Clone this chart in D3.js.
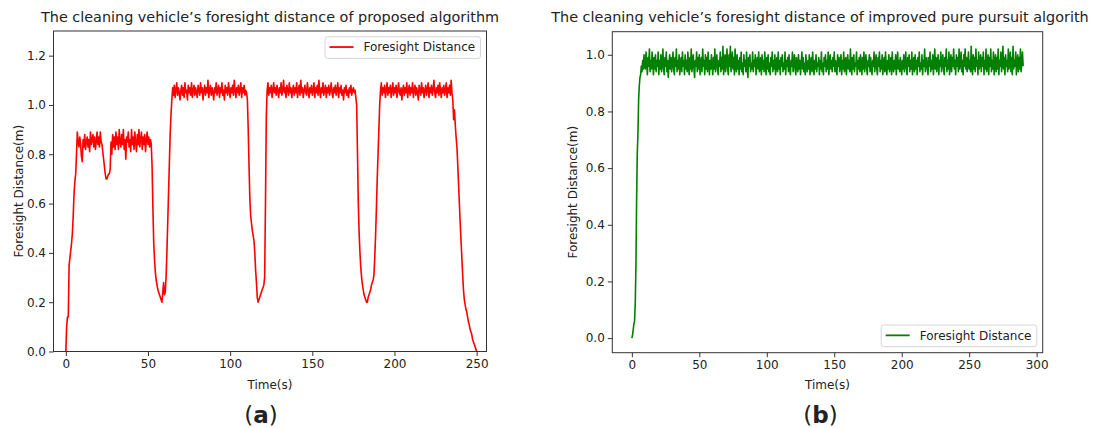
<!DOCTYPE html>
<html>
<head>
<meta charset="utf-8">
<script src="https://cdn.jsdelivr.net/npm/d3@7"></script>
<style>
  html, body { margin: 0; padding: 0; background: #fff; }
  svg { display: block; }
  text { font-family: "DejaVu Sans", sans-serif; fill: #222; }
</style>
</head>
<body>
<svg id="chart" width="1094" height="428"></svg>
<script>
// ---------------- DATA ----------------
// Panel (a): proposed algorithm, one sample every 0.5 s, t = 0 .. 250 s
const timeStepA = 0.5;
const foresightA = [
  0.00,0.10,0.14,0.14,0.35,0.38,0.41,0.44,0.48,0.55,0.64,0.69,0.72,0.80,0.89,0.85,0.83,0.87,0.84,0.79,
  0.77,0.86,0.83,0.88,0.82,0.85,0.87,0.83,0.86,0.81,0.89,0.84,0.86,0.88,0.83,0.87,0.82,0.85,0.89,0.84,
  0.87,0.83,0.89,0.85,0.84,0.81,0.78,0.75,0.72,0.70,0.70,0.71,0.72,0.72,0.74,0.85,0.80,0.88,0.83,0.87,
  0.82,0.89,0.84,0.87,0.82,0.90,0.85,0.83,0.88,0.84,0.90,0.82,0.86,0.78,0.87,0.85,0.89,0.83,0.86,0.81,
  0.90,0.84,0.87,0.82,0.89,0.85,0.81,0.88,0.84,0.90,0.83,0.86,0.89,0.82,0.87,0.84,0.88,0.81,0.86,0.89,
  0.84,0.87,0.83,0.86,0.84,0.75,0.58,0.44,0.37,0.32,0.29,0.27,0.25,0.24,0.23,0.22,0.21,0.20,0.24,0.28,
  0.23,0.24,0.30,0.40,0.52,0.64,0.76,0.88,0.96,1.02,1.07,1.04,1.08,1.03,1.06,1.09,1.04,1.07,1.05,1.02,
  1.06,1.08,1.04,1.07,1.03,1.09,1.05,1.06,1.02,1.08,1.05,1.07,1.04,1.09,1.03,1.06,1.08,1.04,1.07,1.05,
  1.03,1.08,1.06,1.04,1.09,1.05,1.07,1.02,1.06,1.08,1.04,1.07,1.05,1.10,1.03,1.06,1.08,1.04,1.07,1.05,
  1.02,1.07,1.05,1.09,1.04,1.06,1.08,1.03,1.07,1.05,1.09,1.04,1.06,1.02,1.08,1.05,1.07,1.04,1.09,1.06,
  1.03,1.07,1.05,1.08,1.04,1.10,1.06,1.03,1.07,1.05,1.08,1.04,1.06,1.09,1.03,1.07,1.05,1.08,1.04,1.06,
  1.05,1.02,0.90,0.75,0.62,0.55,0.52,0.49,0.47,0.45,0.40,0.33,0.28,0.22,0.20,0.21,0.22,0.23,0.24,0.25,
  0.26,0.27,0.30,0.60,0.95,1.06,1.09,1.04,1.07,1.05,1.08,1.03,1.06,1.09,1.05,1.07,1.04,1.08,1.06,1.03,
  1.07,1.05,1.09,1.04,1.06,1.10,1.05,1.07,1.03,1.08,1.06,1.04,1.09,1.05,1.07,1.03,1.06,1.08,1.04,1.07,
  1.05,1.09,1.03,1.06,1.08,1.04,1.10,1.05,1.07,1.03,1.06,1.08,1.05,1.04,1.09,1.06,1.03,1.07,1.05,1.08,
  1.04,1.06,1.09,1.03,1.07,1.05,1.08,1.04,1.10,1.06,1.03,1.07,1.05,1.09,1.04,1.06,1.08,1.03,1.07,1.05,
  1.08,1.04,1.06,1.09,1.05,1.03,1.07,1.05,1.08,1.04,1.06,1.09,1.03,1.07,1.05,1.08,1.04,1.06,1.02,1.07,
  1.05,1.08,1.04,1.06,1.03,1.07,1.05,1.08,1.04,1.06,1.07,1.05,1.06,1.03,1.00,0.80,0.60,0.48,0.40,0.34,
  0.30,0.27,0.25,0.23,0.22,0.21,0.20,0.20,0.22,0.23,0.24,0.25,0.27,0.28,0.29,0.31,0.38,0.47,0.58,0.70,
  0.80,0.90,1.00,1.06,1.09,1.04,1.07,1.05,1.08,1.03,1.06,1.09,1.04,1.07,1.05,1.08,1.03,1.06,1.09,1.04,
  1.07,1.05,1.08,1.03,1.06,1.09,1.05,1.04,1.07,1.02,1.06,1.08,1.04,1.07,1.05,1.09,1.03,1.06,1.08,1.04,
  1.07,1.05,1.09,1.03,1.06,1.08,1.04,1.07,1.05,1.02,1.08,1.06,1.04,1.09,1.05,1.07,1.03,1.06,1.08,1.04,
  1.06,1.09,1.03,1.07,1.05,1.08,1.04,1.06,1.10,1.05,1.03,1.07,1.05,1.08,1.04,1.09,1.06,1.03,1.07,1.05,
  1.08,1.04,1.06,1.09,1.03,1.07,1.05,1.08,1.04,1.10,1.05,1.02,0.94,0.98,0.92,0.87,0.83,0.76,0.68,0.60,
  0.52,0.45,0.38,0.31,0.25,0.21,0.19,0.17,0.16,0.14,0.12,0.11,0.09,0.08,0.07,0.05,0.04,0.03,0.02,0.01,
  0.00
];

// Panel (b): improved pure pursuit, one sample every 0.5 s, t = 0 .. 290 s
const timeStepB = 0.5;
const foresightB = [
  0.00,0.01,0.03,0.05,0.06,0.12,0.25,0.48,0.65,0.72,0.84,0.89,0.92,0.93,0.96,0.94,0.98,0.95,1.00,0.96,
  0.95,1.01,0.97,0.93,0.99,0.96,1.02,0.94,0.98,0.95,1.01,0.97,0.93,0.99,0.95,1.00,0.94,0.98,0.96,1.01,
  0.93,0.98,0.95,1.00,0.94,0.97,1.02,0.95,0.93,0.99,0.96,1.01,0.94,0.98,0.92,0.97,1.00,0.95,0.99,0.94,
  0.97,1.01,0.95,0.93,0.99,0.96,1.02,0.94,0.98,0.95,1.00,0.93,0.97,0.99,0.94,1.01,0.96,0.98,0.93,1.00,
  0.95,0.98,0.94,1.01,0.96,0.93,0.99,0.95,1.02,0.94,0.97,1.00,0.95,0.92,0.98,0.96,1.01,0.94,0.99,0.95,
  1.00,0.93,0.97,0.99,0.94,1.02,0.96,0.98,0.93,1.00,0.95,0.99,0.94,1.01,0.97,0.93,0.98,0.95,1.00,0.96,
  0.93,0.99,0.95,1.02,0.94,0.97,1.00,0.95,0.93,0.98,0.96,1.01,0.94,0.99,0.95,1.03,0.93,0.97,1.00,0.94,
  0.98,1.02,0.95,0.93,1.00,0.96,1.03,0.94,0.97,1.01,0.95,0.99,0.93,1.02,0.96,0.94,1.00,0.95,0.98,0.93,
  0.99,0.95,1.01,0.94,0.97,0.93,1.00,0.96,0.98,0.94,1.01,0.95,0.92,0.99,0.96,1.00,0.94,0.97,0.95,1.01,
  0.94,0.98,0.96,1.00,0.93,0.97,0.99,0.95,1.01,0.94,0.96,0.99,0.93,1.00,0.95,0.98,0.94,1.01,0.96,0.93,
  0.99,0.95,1.00,0.94,0.97,0.93,0.99,0.96,1.01,0.94,0.98,0.95,1.00,0.93,0.97,0.99,0.94,1.01,0.95,0.98,
  0.93,0.99,0.96,1.00,0.94,0.97,0.95,1.01,0.93,0.98,0.96,0.99,0.94,1.00,0.95,0.93,0.98,0.96,1.01,0.94,
  0.97,1.00,0.95,0.93,0.99,0.96,0.94,1.00,0.95,0.98,0.93,0.97,1.01,0.95,0.99,0.94,0.97,0.93,1.00,0.96,
  0.94,0.98,0.95,1.00,0.93,0.97,0.99,0.94,1.01,0.96,0.93,0.98,0.95,1.00,0.94,0.97,0.96,0.99,0.93,0.98,
  0.95,1.01,0.94,0.97,0.93,0.99,0.96,1.00,0.94,0.98,0.95,1.01,0.93,0.97,1.00,0.95,0.98,0.94,0.99,0.96,
  1.01,0.94,0.98,0.95,0.93,1.00,0.96,0.99,0.94,0.97,1.00,0.93,0.98,0.95,1.01,0.94,0.96,0.99,0.93,0.97,
  1.00,0.95,0.98,0.94,1.02,0.96,0.93,0.99,0.95,1.00,0.94,0.97,0.96,1.01,0.93,0.98,0.95,0.99,0.94,1.00,
  0.96,0.93,0.99,0.95,1.01,0.94,0.97,1.00,0.95,0.93,0.98,0.96,1.00,0.94,0.99,0.95,0.93,0.98,0.96,1.01,
  0.94,0.97,1.00,0.95,0.93,0.99,0.96,1.01,0.94,0.98,0.95,1.00,0.93,0.97,0.99,0.94,1.01,0.96,0.93,0.98,
  0.95,1.00,0.94,0.97,0.99,0.93,1.01,0.96,0.94,0.98,0.95,1.00,0.93,0.97,1.01,0.95,0.98,0.94,0.99,0.96,
  0.93,0.98,0.95,1.00,0.94,0.97,1.01,0.95,0.93,0.99,0.96,1.00,0.94,0.98,0.95,1.01,0.93,0.97,0.99,0.94,
  1.00,0.95,0.98,0.93,0.99,0.96,1.01,0.94,0.97,0.95,1.00,0.93,0.98,0.96,1.02,0.94,0.97,0.99,0.95,0.93,
  0.99,0.96,1.01,0.94,0.98,0.95,1.00,0.93,0.97,1.02,0.95,0.99,0.94,0.97,1.00,0.93,0.98,0.96,1.01,0.94,
  0.97,1.00,0.95,0.93,0.99,0.96,1.02,0.94,0.98,0.95,1.01,0.93,0.97,1.00,0.94,0.99,0.96,1.02,0.95,0.98,
  0.93,1.00,0.96,0.99,0.94,1.02,0.95,0.97,1.01,0.94,0.98,0.93,1.00,0.96,1.02,0.95,0.99,0.94,0.97,1.01,
  0.95,0.98,0.94,1.03,0.96,0.93,1.00,0.95,0.99,0.94,1.02,0.96,0.98,0.93,1.01,0.95,0.97,1.00,0.94,0.99,
  0.96,1.01,0.93,0.98,0.95,1.02,0.94,0.97,1.00,0.93,0.99,0.96,1.02,0.94,0.98,0.95,1.01,0.93,0.97,1.00,
  0.94,0.99,0.95,1.02,0.93,0.98,0.96,1.01,0.94,0.97,1.03,0.95,0.99,0.93,1.00,0.96,0.98,0.94,1.02,0.95,
  0.97,1.01,0.94,0.99,0.93,1.03,0.95,0.98,0.96,1.01,0.93,0.97,1.00,0.94,0.99,0.95,1.02,0.94,0.97,1.01,
  0.96
];

const xTicksA = [0, 50, 100, 150, 200, 250];
const yTicksA = [0.0, 0.2, 0.4, 0.6, 0.8, 1.0, 1.2];
const xTicksB = [0, 50, 100, 150, 200, 250, 300];
const yTicksB = [0.0, 0.2, 0.4, 0.6, 0.8, 1.0];

const titleA = "The cleaning vehicle\u2019s foresight distance of proposed algorithm";
const titleB = "The cleaning vehicle\u2019s foresight distance of improved pure pursuit algorith";
const xLabel = "Time(s)";
const yLabel = "Foresight Distance(m)";
const legendLabel = "Foresight Distance";

// ---------------- DRAW ----------------
const svg = d3.select("#chart");

function drawPanel(cfg) {
  const x = d3.scaleLinear().domain(cfg.xDomain).range([cfg.left, cfg.right]);
  const y = d3.scaleLinear().domain(cfg.yDomain).range([cfg.bottom, cfg.top]);
  const g = svg.append("g");

  // data line
  const pts = cfg.values.map((v, i) => [i * cfg.step, v]);
  g.append("path")
    .datum(pts)
    .attr("fill", "none")
    .attr("stroke", cfg.color)
    .attr("stroke-width", 1.6)
    .attr("stroke-linejoin", "round")
    .attr("d", d3.line().x(d => x(d[0])).y(d => y(d[1])));

  // axes
  const xAxis = d3.axisBottom(x).tickValues(cfg.xTicks).tickFormat(d3.format("d"))
    .tickSize(4.5).tickPadding(3);
  const yAxis = d3.axisLeft(y).tickValues(cfg.yTicks).tickFormat(d3.format(".1f"))
    .tickSize(4.5).tickPadding(3);
  const gx = g.append("g").attr("transform", `translate(0,${cfg.bottom})`).call(xAxis);
  const gy = g.append("g").attr("transform", `translate(${cfg.left},0)`).call(yAxis);
  [gx, gy].forEach(a => {
    a.select(".domain").remove();
    a.selectAll(".tick line").attr("stroke", "#333").attr("stroke-width", 1);
    a.selectAll(".tick text").attr("font-size", 12).attr("fill", "#222")
      .attr("font-family", "DejaVu Sans, sans-serif");
  });

  // frame
  g.append("rect")
    .attr("x", cfg.left).attr("y", cfg.top)
    .attr("width", cfg.right - cfg.left).attr("height", cfg.bottom - cfg.top)
    .attr("fill", "none").attr("stroke", "#333").attr("stroke-width", 1);

  // title
  g.append("text")
    .attr("x", cfg.titleX).attr("y", 22)
    .attr("text-anchor", "middle").attr("font-size", 14.4)
    .text(cfg.title);

  // axis labels
  g.append("text")
    .attr("x", (cfg.left + cfg.right) / 2).attr("y", 388.5)
    .attr("text-anchor", "middle").attr("font-size", 12)
    .text(xLabel);
  g.append("text")
    .attr("transform", `translate(${cfg.yLabelX},${(cfg.top + cfg.bottom) / 2}) rotate(-90)`)
    .attr("text-anchor", "middle").attr("dy", "0.35em").attr("font-size", 12)
    .text(yLabel);

  // legend
  const lw = 155.5, lh = 21.7;
  const lx = cfg.right - 6 - lw;
  const ly = cfg.legendPos === "top" ? cfg.top + 5.7 : cfg.bottom - 6 - lh;
  const lg = g.append("g");
  lg.append("rect").attr("x", lx).attr("y", ly).attr("width", lw).attr("height", lh)
    .attr("rx", 2.5).attr("fill", "#fff").attr("fill-opacity", 0.85)
    .attr("stroke", "#d6d6d6").attr("stroke-width", 1);
  lg.append("line").attr("x1", lx + 4.5).attr("x2", lx + 28.5)
    .attr("y1", ly + lh / 2 - 0.5).attr("y2", ly + lh / 2 - 0.5)
    .attr("stroke", cfg.color).attr("stroke-width", 1.8);
  lg.append("text").attr("x", lx + 38.5).attr("y", ly + lh / 2 - 0.5)
    .attr("dy", "0.35em").attr("font-size", 12).text(legendLabel);

  // caption
  const cap = g.append("text")
    .attr("x", cfg.capX).attr("y", 423)
    .attr("text-anchor", "middle")
    .attr("font-family", "Liberation Serif, DejaVu Serif, serif")
    .attr("font-size", 23).attr("fill", "#000");
  cap.append("tspan").text("(");
  cap.append("tspan").attr("font-weight", "bold").text(cfg.capLetter);
  cap.append("tspan").text(")");
}

drawPanel({
  values: foresightA, step: timeStepA, color: "#ff0000",
  left: 53.5, right: 486.5, top: 31, bottom: 351.5,
  xDomain: [-7.5, 256], yDomain: [0, 1.3],
  xTicks: xTicksA, yTicks: yTicksA,
  title: titleA, titleX: 270, yLabelX: 18.3, legendPos: "top",
  capX: 261, capLetter: "a"
});

drawPanel({
  values: foresightB, step: timeStepB, color: "#008000",
  left: 612.3, right: 1042.7, top: 31.7, bottom: 352.7,
  xDomain: [-14.5, 304.5], yDomain: [-0.0515, 1.0815],
  xTicks: xTicksB, yTicks: yTicksB,
  title: titleB, titleX: 820, yLabelX: 572.3, legendPos: "bottom",
  capX: 820.5, capLetter: "b"
});
</script>
</body>
</html>
